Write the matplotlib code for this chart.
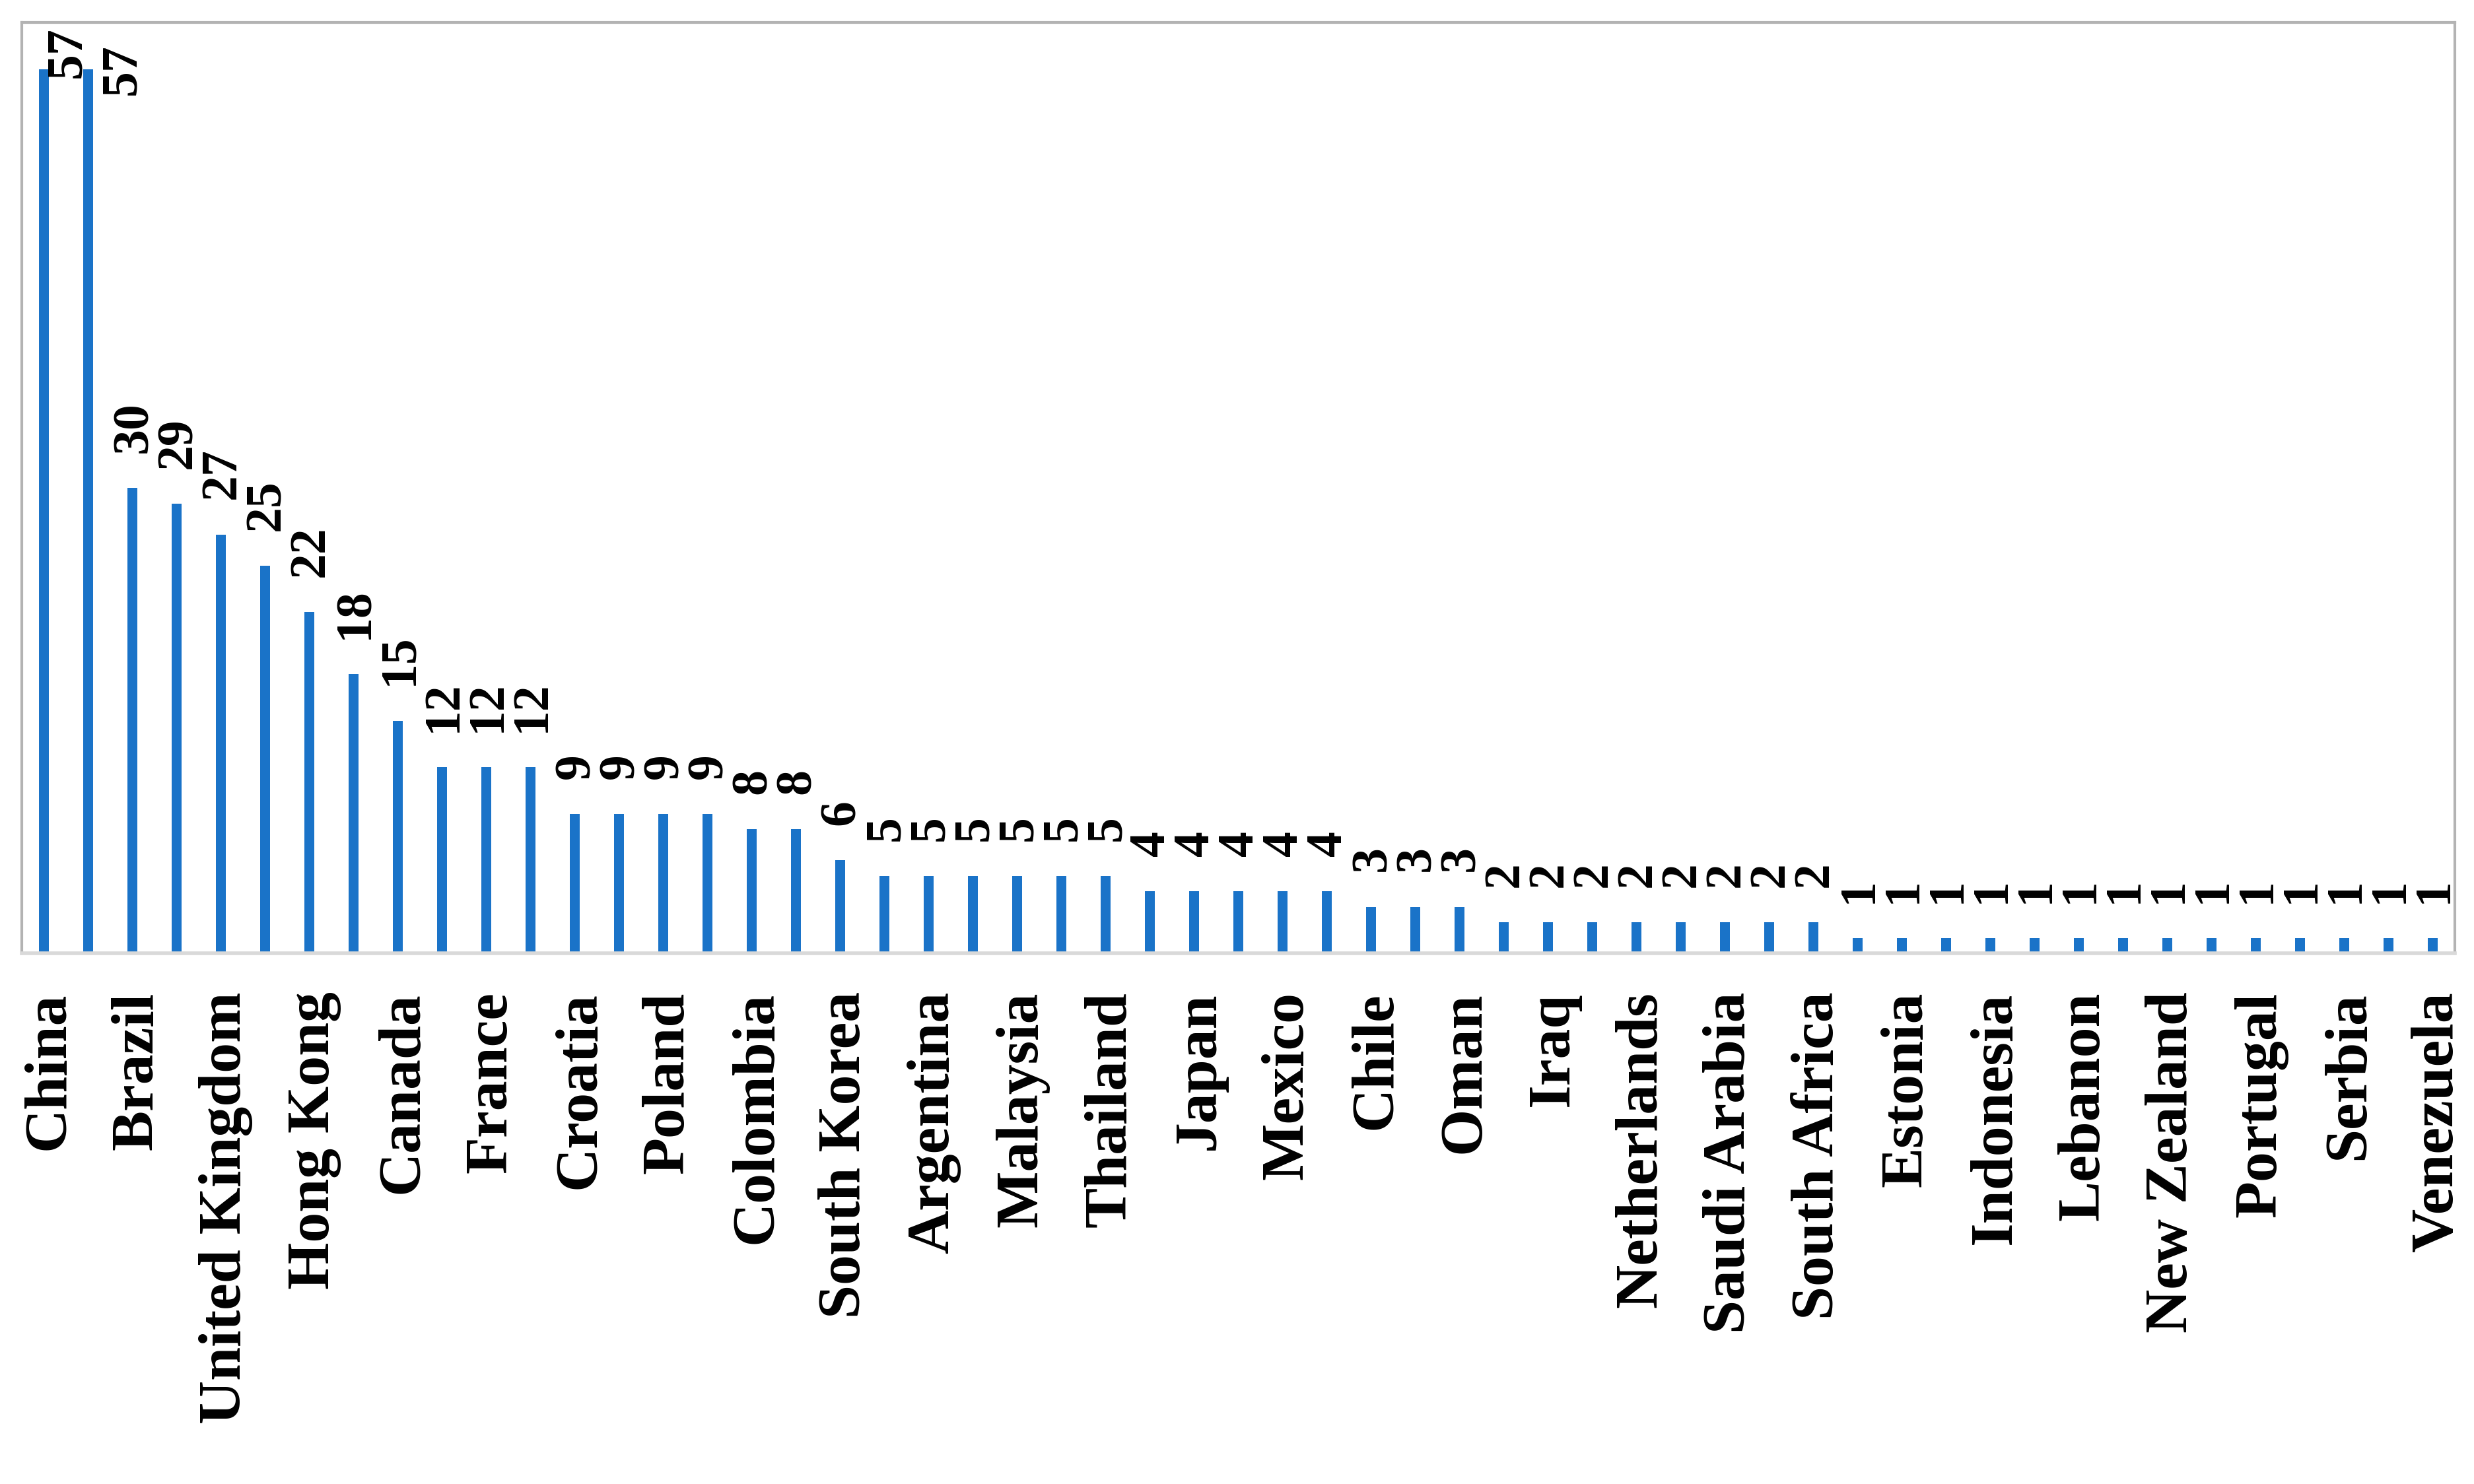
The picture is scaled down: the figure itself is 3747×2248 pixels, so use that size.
# plot.py
#   bar chart of number of items per country, value labels rotated on top

import matplotlib
matplotlib.use('Agg')
from matplotlib import pyplot as plt, transforms as mtransforms

# country labels: only every other bar carries a name in the original
LABELS = ['China', 'Brazil', 'United Kingdom', 'Hong Kong', 'Canada', 'France',
          'Croatia', 'Poland', 'Colombia', 'South Korea', 'Argentina', 'Malaysia',
          'Thailand', 'Japan', 'Mexico', 'Chile', 'Oman', 'Iraq', 'Netherlands',
          'Saudi Arabia', 'South Africa', 'Estonia', 'Indonesia', 'Lebanon',
          'New Zealand', 'Portugal', 'Serbia', 'Venezuela']
VALUES = [57, 57, 30, 29, 27, 25, 22, 18, 15, 12, 12, 12,
          9, 9, 9, 9, 8, 8, 6,
          5, 5, 5, 5, 5, 5,
          4, 4, 4, 4, 4,
          3, 3, 3,
          2, 2, 2, 2, 2, 2, 2, 2,
          1, 1, 1, 1, 1, 1, 1, 1, 1, 1, 1, 1, 1, 1]
YMAX = 60

BAR_COLOR = '#1A73C8'
FONT = 'Liberation Serif'


def main():
    dpi = 100
    fig = plt.figure(figsize=(3748 / dpi, 2248 / dpi), dpi=dpi)
    ax = fig.add_axes([33 / 3748, 1 - 1444 / 2248, (3718 - 33) / 3748, (1444 - 34) / 2248])

    x = list(range(len(VALUES)))
    ax.bar(x, VALUES, width=0.21, color=BAR_COLOR, zorder=2)
    ax.set_xlim(-0.5, len(VALUES) - 0.5)
    ax.set_ylim(0, YMAX)

    # tick labels on every second bar
    ticks = x[::2]
    ax.set_xticks(ticks)
    ax.set_xticklabels(LABELS, rotation=90, ha='center', va='top',
                       fontfamily=FONT, fontweight='bold', fontsize=66)
    ax.tick_params(axis='x', length=0, pad=42)
    ax.set_yticks([])
    shift = mtransforms.ScaledTranslation(8 / dpi, 0, fig.dpi_scale_trans)
    for lab in ax.get_xticklabels():
        lab.set_transform(lab.get_transform() + shift)

    for side in ('left', 'top', 'right'):
        ax.spines[side].set_color('#B3B3B3')
        ax.spines[side].set_linewidth(3)
    ax.spines['bottom'].set_color('#D9D9D9')
    ax.spines['bottom'].set_linewidth(4)

    # value labels; the ones that would leave the plot are pushed down-right
    nover = 0
    for i, v in enumerate(VALUES):
        if v > YMAX - 6:
            dx, dy = 36 + 16 * nover, -(14 + 25 * nover)
            nover += 1
        else:
            dx, dy = 3, 53
        ax.annotate(str(v), (i, v), xytext=(dx, dy), textcoords='offset pixels',
                    rotation=90, ha='center', va='bottom',
                    fontfamily=FONT, fontweight='bold', fontsize=56,
                    annotation_clip=False)

    fig.savefig('out.png', dpi=dpi)


if __name__ == '__main__':
    main()
